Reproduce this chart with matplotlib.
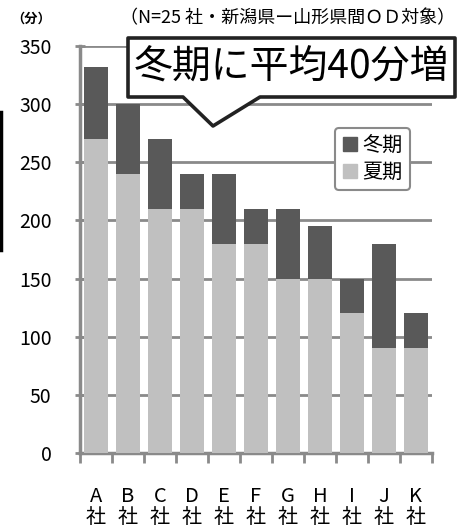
import matplotlib.pyplot as plt
from matplotlib.lines import Line2D
from matplotlib.patches import Polygon

plt.rcParams['font.family'] = ['Noto Sans CJK JP', 'DejaVu Sans']

companies = ['A', 'B', 'C', 'D', 'E', 'F', 'G', 'H', 'I', 'J', 'K']
summer = [270, 240, 210, 210, 180, 180, 150, 150, 120, 90, 90]
winter_total = [332, 300, 270, 240, 240, 210, 210, 195, 150, 180, 120]
yticks = [0, 50, 100, 150, 200, 250, 300, 350]

dark = '#595959'
light = '#c0c0c0'
grey = '#8a8a8a'

W, H = 464, 528
fig = plt.figure(figsize=(W / 100, H / 100), dpi=100)


def px(x, y):
    # pixel position (from top-left) -> figure fraction
    return x / W, 1 - y / H


ax = fig.add_axes([80 / W, 1 - 453 / H, (432 - 80) / W, (453 - 46) / H])

x = list(range(len(companies)))
extra = [t - s for t, s in zip(winter_total, summer)]
ax.bar(x, summer, width=0.78, color=light, zorder=3)
ax.bar(x, extra, bottom=summer, width=0.78, color=dark, zorder=3)

ax.set_xlim(-0.5, len(companies) - 0.5)
ax.set_ylim(0, 350)
ax.set_yticks(yticks)
ax.set_yticklabels([str(v) for v in yticks], fontsize=14)
ax.yaxis.grid(True, color=grey, linewidth=2, zorder=0)
ax.set_axisbelow(True)

ax.set_xticks(x)
ax.set_xticklabels([c + '\n社' for c in companies], fontsize=14.5, linespacing=1.0)
ax.set_xticks([i - 0.5 for i in range(len(companies) + 1)], minor=True)
ax.tick_params(axis='x', which='major', length=0, pad=24)
ax.tick_params(axis='x', which='minor', length=7, width=2, color=grey, direction='out')
ax.tick_params(axis='y', length=7, width=2, color=grey, direction='inout', pad=17)

for s in ['top', 'right']:
    ax.spines[s].set_visible(False)
for s in ['left', 'bottom']:
    ax.spines[s].set_color(grey)
    ax.spines[s].set_linewidth(2.5)

handles = [Line2D([], [], marker='s', linestyle='none', markersize=10, color=dark),
           Line2D([], [], marker='s', linestyle='none', markersize=10, color=light)]
leg = ax.legend(handles, ['冬期', '夏期'], loc='upper left',
                bbox_to_anchor=px(325, 118), bbox_transform=fig.transFigure,
                fontsize=14.5, handlelength=0.8, handletextpad=0.2,
                borderpad=0.35, labelspacing=0.3, fancybox=True, framealpha=1)
leg.get_frame().set_edgecolor(grey)
leg.get_frame().set_linewidth(1.5)
leg.set_zorder(6)

# callout balloon
pts = [(128, 38), (455, 38), (455, 97), (260, 97), (213, 126), (183, 97), (128, 97)]
balloon = Polygon([px(*p) for p in pts], closed=True, transform=fig.transFigure,
                  facecolor='white', edgecolor='#222222', linewidth=2.6,
                  joinstyle='round', zorder=10)
fig.patches.append(balloon)
fig.text(*px(291, 68), '冬期に平均40分増', fontsize=28, ha='center', va='center', zorder=11)

fig.text(*px(288, 18), '（N=25 社・新潟県ー山形県間ＯＤ対象）', fontsize=13,
         ha='center', va='center')
fig.text(*px(31, 19), '（分）', fontsize=9.5, fontweight='bold', ha='center', va='center')

# edge of a neighbouring frame
fig.add_artist(Line2D([1.5 / W, 1.5 / W], [1 - 112 / H, 1 - 250 / H],
                      transform=fig.transFigure, color='black', linewidth=2.5))

fig.savefig('out.png', dpi=100)
